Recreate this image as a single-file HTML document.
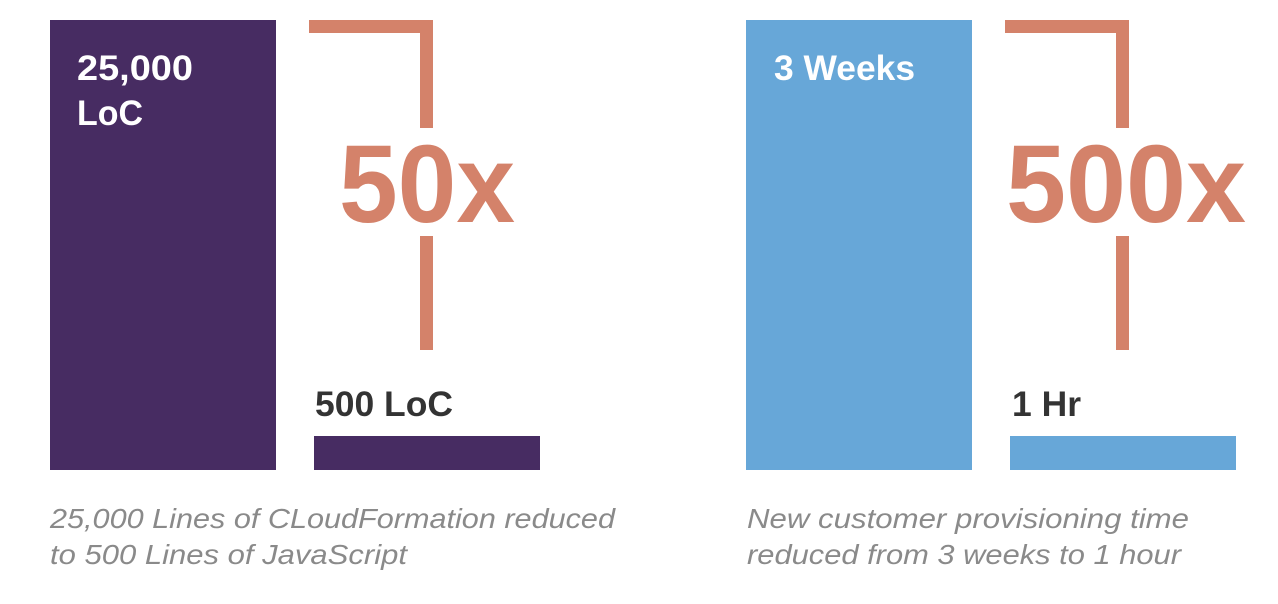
<!DOCTYPE html>
<html><head><style>body{margin:0;background:#fff}svg{display:block}</style></head>
<body>
<svg width="1278" height="604" viewBox="0 0 1278 604" xmlns="http://www.w3.org/2000/svg" font-family="Liberation Sans, sans-serif">
<rect width="1278" height="604" fill="#fff"/>
<!-- left -->
<rect x="50" y="20" width="226" height="450" fill="#472c62"/>
<rect x="314" y="436" width="226" height="34" fill="#472c62"/>
<rect x="309" y="20" width="124" height="13" fill="#d4826a"/>
<rect x="420" y="20" width="13" height="108" fill="#d4826a"/>
<rect x="420" y="236" width="13" height="114" fill="#d4826a"/>
<text x="339" y="222" font-size="110" font-weight="bold" fill="#d4826a" textLength="176" lengthAdjust="spacingAndGlyphs">50x</text>
<text x="77" y="80" font-size="35" font-weight="bold" fill="#fff" textLength="116" lengthAdjust="spacingAndGlyphs">25,000</text>
<text x="77" y="125" font-size="35" font-weight="bold" fill="#fff" textLength="66" lengthAdjust="spacingAndGlyphs">LoC</text>
<text x="315" y="416" font-size="35" font-weight="bold" fill="#333" textLength="138" lengthAdjust="spacingAndGlyphs">500 LoC</text>
<text x="50" y="528" font-size="28" font-style="italic" fill="#8a8a8a" textLength="565" lengthAdjust="spacingAndGlyphs">25,000 Lines of CLoudFormation reduced</text>
<text x="50" y="564" font-size="28" font-style="italic" fill="#8a8a8a" textLength="357" lengthAdjust="spacingAndGlyphs">to 500 Lines of JavaScript</text>
<!-- right -->
<rect x="746" y="20" width="226" height="450" fill="#67a7d8"/>
<rect x="1010" y="436" width="226" height="34" fill="#67a7d8"/>
<rect x="1005" y="20" width="124" height="13" fill="#d4826a"/>
<rect x="1116" y="20" width="13" height="108" fill="#d4826a"/>
<rect x="1116" y="236" width="13" height="114" fill="#d4826a"/>
<text x="1006" y="222" font-size="110" font-weight="bold" fill="#d4826a" textLength="240" lengthAdjust="spacingAndGlyphs">500x</text>
<text x="774" y="80" font-size="35" font-weight="bold" fill="#fff" textLength="141" lengthAdjust="spacingAndGlyphs">3 Weeks</text>
<text x="1012" y="416" font-size="35" font-weight="bold" fill="#333" textLength="69" lengthAdjust="spacingAndGlyphs">1 Hr</text>
<text x="747" y="528" font-size="28" font-style="italic" fill="#8a8a8a" textLength="442" lengthAdjust="spacingAndGlyphs">New customer provisioning time</text>
<text x="747" y="564" font-size="28" font-style="italic" fill="#8a8a8a" textLength="434" lengthAdjust="spacingAndGlyphs">reduced from 3 weeks to 1 hour</text>
</svg>
</body></html>
